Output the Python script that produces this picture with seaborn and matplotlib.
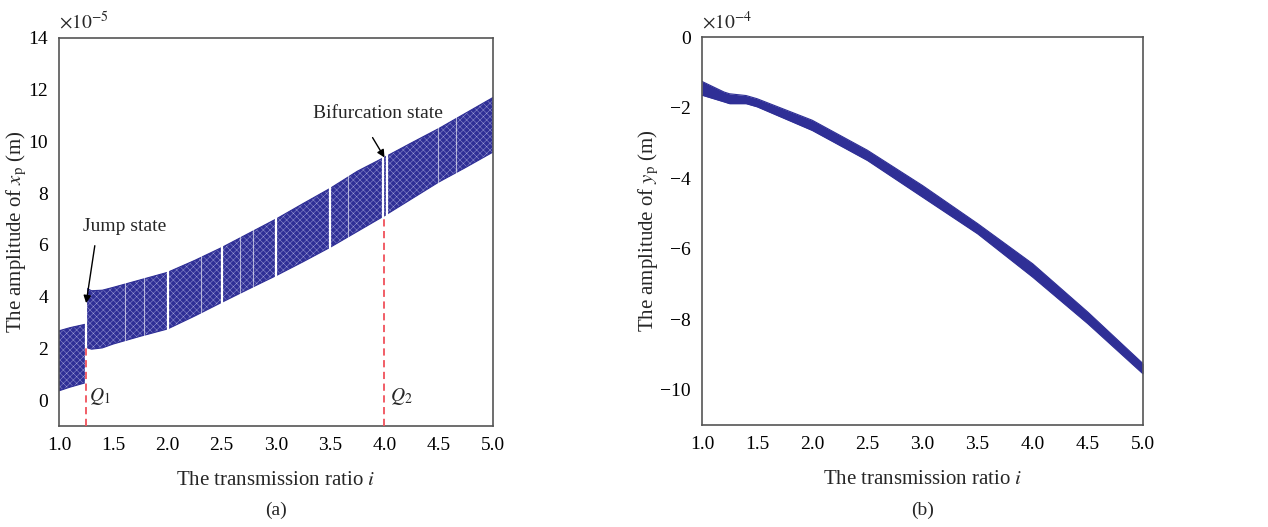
import numpy as np
import pandas as pd
import matplotlib
matplotlib.use("Agg")
import matplotlib.pyplot as plt
import matplotlib.ticker as mticker
import seaborn as sns

sns.set_style("white")
plt.rcParams['font.family'] = ['Liberation Serif', 'DejaVu Serif']
plt.rcParams['mathtext.fontset'] = 'stix'
plt.rcParams['hatch.linewidth'] = 0.3
plt.rcParams['axes.unicode_minus'] = True

# panel (a): x_p band, values in 1e-5 m
a_i1 = [1.0, 1.1, 1.25]
a_up1 = [2.68, 2.80, 2.94]
a_lo1 = [0.36, 0.50, 0.68]
a_i2 = [1.25, 1.3, 1.4, 1.5, 1.75, 2.0, 2.25, 2.5, 2.75, 3.0, 3.25, 3.5, 3.75, 4.0, 4.25, 4.5, 4.75, 5.0]
a_up2 = [4.33, 4.23, 4.25, 4.36, 4.65, 4.94, 5.40, 5.90, 6.45, 7.00, 7.60, 8.19, 8.85, 9.39, 9.95, 10.50, 11.10, 11.70]
a_lo2 = [2.04, 1.97, 2.02, 2.17, 2.47, 2.75, 3.25, 3.78, 4.30, 4.81, 5.35, 5.91, 6.52, 7.13, 7.78, 8.43, 9.00, 9.59]
gaps_strong = [1.25, 2.0, 2.5, 3.0, 3.5, 3.985, 4.02]
gaps_faint = [1.61, 1.78, 2.31, 2.67, 2.79, 3.66, 4.49, 4.66]

# panel (b): y_p band, values in 1e-4 m
b_i = [1.0, 1.2, 1.25, 1.4, 1.5, 2.0, 2.5, 3.0, 3.5, 4.0, 4.5, 5.0]
b_up = [-1.26, -1.56, -1.61, -1.66, -1.75, -2.36, -3.21, -4.21, -5.29, -6.43, -7.80, -9.26]
b_lo = [-1.65, -1.84, -1.89, -1.89, -1.98, -2.65, -3.50, -4.54, -5.58, -6.81, -8.13, -9.55]

navy = '#2f2f96'
red = '#f0505a'

fig = plt.figure(figsize=(12.68, 5.27), dpi=100)
ax1 = fig.add_axes([59/1268, 1-426/527, 434/1268, 388/527])
ax2 = fig.add_axes([702/1268, 1-425/527, 441/1268, 388/527])


def band(ax, i, up, lo, hatch=None):
    df = pd.DataFrame({'i': i, 'up': up, 'lo': lo})
    ax.fill_between(df['i'], df['lo'], df['up'], facecolor=navy,
                    edgecolor='#a8a8dc' if hatch else navy, hatch=hatch, linewidth=0, zorder=1)
    sns.lineplot(data=df, x='i', y='up', ax=ax, color=navy, lw=0.8, zorder=1.5)
    sns.lineplot(data=df, x='i', y='lo', ax=ax, color=navy, lw=0.8, zorder=1.5)


band(ax1, a_i1, a_up1, a_lo1, hatch='xxxxx')
band(ax1, a_i2, a_up2, a_lo2, hatch='xxxxx')
for g in gaps_strong:
    ax1.axvline(g, color='white', lw=1.6, zorder=2)
for g in gaps_faint:
    ax1.axvline(g, color='white', lw=0.8, alpha=0.6, zorder=2)

# red dashed markers
ax1.vlines([1.25], -1, a_lo2[0], colors=red, linestyles=(0, (4, 2.5)), lw=1.3, zorder=4)
ax1.vlines([4.0], -1, a_lo2[13], colors=red, linestyles=(0, (4, 2.5)), lw=1.3, zorder=4)
ax1.text(1.28, 0.15, r'$Q_1$', fontsize=14, va='center')
ax1.text(4.05, 0.15, r'$Q_2$', fontsize=14, va='center')

ax1.text(1.22, 6.7, 'Jump state', fontsize=14, va='center', ha='left')
ax1.annotate('', xy=(1.25, 3.75), xytext=(1.33, 5.97),
             arrowprops=dict(arrowstyle='-|>', color='black', lw=1, shrinkA=0, shrinkB=0,
                             mutation_scale=11))
ax1.text(3.34, 11.1, 'Bifurcation state', fontsize=14, va='center', ha='left')
ax1.annotate('', xy=(4.0, 9.38), xytext=(3.89, 10.15),
             arrowprops=dict(arrowstyle='-|>', color='black', lw=1, shrinkA=0, shrinkB=0,
                             mutation_scale=11))

band(ax2, b_i, b_up, b_lo)

for ax, ylab, ylim, yt, expo, tag, lx in [
        (ax1, r'The amplitude of $x_\mathrm{p}$ (m)', (-1, 14), range(0, 15, 2), '-5', '(a)', -0.068),
        (ax2, r'The amplitude of $y_\mathrm{p}$ (m)', (-11, 0), range(-10, 1, 2), '-4', '(b)', -0.093)]:
    ax.set_xlim(1.0, 5.0)
    ax.set_ylim(*ylim)
    ax.set_xticks(np.arange(1.0, 5.01, 0.5))
    ax.set_yticks(list(yt))
    ax.xaxis.set_major_formatter(mticker.FormatStrFormatter('%.1f'))
    ax.tick_params(direction='in', length=5, width=1, labelsize=14, top=False, right=False,
                   colors='#333333', labelcolor='black', pad=8)
    for s in ax.spines.values():
        s.set_color('#555555')
        s.set_linewidth(1.2)
    ax.text(0.0, 1.012, r'$\times 10^{%s}$' % expo.replace('-', '\u2212'), transform=ax.transAxes,
            ha='left', va='bottom', fontsize=14)
    ax.set_xlabel(r'The transmission ratio $i$', fontsize=15, labelpad=12)
    ax.set_ylabel(ylab, fontsize=15)
    ax.yaxis.set_label_coords(lx, 0.5)
    pos = ax.get_position()
    fig.text(pos.x0 + pos.width/2, 1-510/527, tag, ha='center', va='center', fontsize=14)

fig.savefig('out.png', dpi=100, facecolor='white')
